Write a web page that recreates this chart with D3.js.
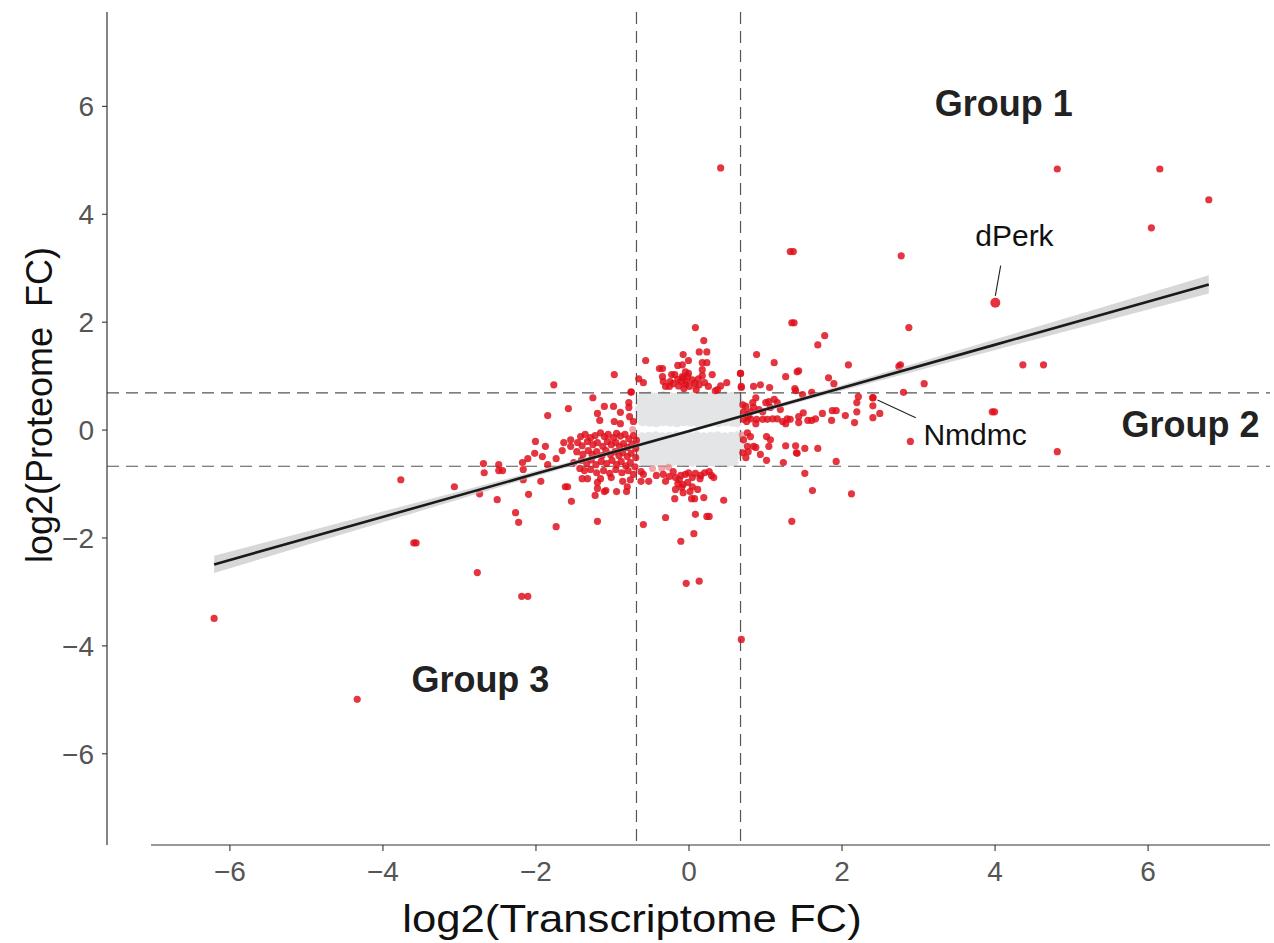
<!DOCTYPE html>
<html><head><meta charset="utf-8">
<script src="https://cdn.jsdelivr.net/npm/d3@7"></script>
<style>body{margin:0;background:#fff}svg{display:block}</style>
</head><body>
<svg id="c" width="1274" height="943"></svg>
<script>
// ---------- data ----------
const xTicks = [-6,-4,-2,0,2,4,6];
const yTicks = [-6,-4,-2,0,2,4,6];
const cutoff = 0.68; // log2 fold-change thresholds (dashed lines)

// regression fit (x, fitted y, standard-error half width)
const fitX  = [-6.2, -4, -2, 0, 2, 4, 6.8];
const fitY  = [-2.50, -1.62, -0.82, -0.03, 0.77, 1.57, 2.69];
const fitSE = [0.16, 0.10, 0.05, 0.03, 0.05, 0.10, 0.17];

// non-significant proteins (grey cloud)
const grayPts = [
[-0.60,0.61],[-0.51,0.62],[-0.42,0.60],[-0.33,0.62],[-0.24,0.61],[-0.15,0.60],[-0.06,0.62],[0.03,0.61],[0.12,0.60],[0.21,0.62],[0.30,0.61],[0.39,0.60],[0.48,0.62],[0.57,0.61],[0.64,0.59],
[-0.63,0.49],[-0.55,0.50],[-0.46,0.48],[-0.37,0.50],[-0.28,0.49],[-0.19,0.47],[-0.10,0.50],[-0.01,0.49],[0.08,0.48],[0.17,0.50],[0.26,0.49],[0.35,0.47],[0.44,0.50],[0.53,0.49],[0.62,0.48],[0.66,0.51],
[-0.64,0.37],[-0.58,0.38],[-0.49,0.36],[-0.40,0.38],[-0.31,0.37],[-0.22,0.35],[-0.13,0.38],[-0.04,0.37],[0.05,0.36],[0.14,0.38],[0.23,0.37],[0.32,0.35],[0.41,0.38],[0.50,0.37],[0.59,0.36],[0.66,0.38],
[-0.62,0.25],[-0.53,0.26],[-0.44,0.24],[-0.35,0.26],[-0.26,0.25],[-0.17,0.23],[-0.08,0.26],[0.01,0.25],[0.10,0.24],[0.19,0.26],[0.28,0.25],[0.37,0.23],[0.46,0.26],[0.55,0.25],[0.63,0.24],
[-0.60,0.15],[-0.51,0.14],[-0.42,0.13],[-0.33,0.15],[-0.24,0.14],[-0.15,0.13],[-0.06,0.15],[0.03,0.14],[0.12,0.13],[0.21,0.15],[0.30,0.14],[0.39,0.13],[0.48,0.15],[0.57,0.14],[0.64,0.13],
[-0.61,-0.14],[-0.52,-0.13],[-0.43,-0.12],[-0.34,-0.14],[-0.25,-0.13],[-0.16,-0.12],[-0.07,-0.14],[0.02,-0.13],[0.11,-0.12],[0.20,-0.14],[0.29,-0.13],[0.38,-0.12],[0.47,-0.14],[0.56,-0.13],[0.64,-0.12],
[-0.64,-0.24],[-0.56,-0.25],[-0.47,-0.23],[-0.38,-0.25],[-0.29,-0.24],[-0.20,-0.22],[-0.11,-0.25],[-0.02,-0.24],[0.07,-0.23],[0.16,-0.25],[0.25,-0.24],[0.34,-0.22],[0.43,-0.25],[0.52,-0.24],[0.61,-0.23],[0.67,-0.25],
[-0.65,-0.36],[-0.59,-0.37],[-0.50,-0.35],[-0.41,-0.37],[-0.32,-0.36],[-0.23,-0.34],[-0.14,-0.37],[-0.05,-0.36],[0.04,-0.35],[0.13,-0.37],[0.22,-0.36],[0.31,-0.34],[0.40,-0.37],[0.49,-0.36],[0.58,-0.35],[0.66,-0.37],
[-0.62,-0.48],[-0.53,-0.49],[-0.44,-0.47],[-0.35,-0.49],[-0.26,-0.48],[-0.17,-0.46],[-0.08,-0.49],[0.01,-0.48],[0.10,-0.47],[0.19,-0.49],[0.28,-0.48],[0.37,-0.46],[0.46,-0.49],[0.55,-0.48],[0.63,-0.47],
[-0.58,-0.60],[-0.49,-0.61],[-0.40,-0.59],[-0.31,-0.61],[-0.22,-0.60],[-0.13,-0.59],[-0.04,-0.61],[0.05,-0.60],[0.14,-0.59],[0.23,-0.61],[0.32,-0.60],[0.41,-0.59],[0.50,-0.61],[0.59,-0.60]
];

// significant proteins (red)
const redPts = [
// outliers / sparse
[-6.20,-3.50],[-4.33,-5.00],[0.42,4.85],[4.82,4.83],[6.16,4.83],[6.80,4.26],[6.05,3.74],[2.78,3.22],[1.33,3.30],[1.37,3.30],
[2.88,1.89],[1.35,1.98],[1.38,1.98],[1.78,1.74],[1.69,1.57],[0.89,1.39],[1.12,1.24],[2.09,1.20],[2.75,1.17],[2.77,1.20],
[4.37,1.20],[4.64,1.20],[3.08,0.85],[2.81,0.69],[3.97,0.33],[4.00,0.33],[2.90,-0.22],[4.82,-0.41],[2.13,-1.19],[1.62,-1.13],
[1.35,-1.70],[0.69,-3.89],[-0.03,-2.85],[0.14,-2.81],[-0.10,-2.07],[0.07,-1.93],[-0.59,-1.76],[-0.30,-1.63],[0.09,-1.57],[0.24,-1.61],
[0.27,-1.61],[0.46,-1.31],[-1.19,-1.70],[-1.73,-1.80],[-2.26,-1.54],[-2.22,-1.72],[-2.50,-1.30],[-2.09,-1.20],[-2.73,-1.19],[-3.06,-1.06],
[-3.76,-0.93],[-3.59,-2.10],[-3.56,-2.10],[-2.76,-2.65],[-2.18,-3.09],[-2.10,-3.09],[-1.61,-1.06],[-1.58,-1.06],[-1.53,-1.33],[1.52,-0.81],
// left wing
[-2.68,-0.63],[-2.48,-0.65],[-2.67,-0.80],[-2.48,-0.76],[-2.43,-0.76],[-2.16,-0.74],[-2.16,-0.93],[-1.93,-0.96],[-2.00,-0.22],[-1.63,-0.24],
[-1.54,-0.19],[-1.87,-0.31],[-1.54,-0.31],[-1.65,-0.39],[-2.01,-0.44],[-2.10,-0.54],[-1.91,-0.50],[-1.73,-0.54],[-2.17,-0.61],[-1.84,-0.65],
[-1.50,-0.61],[-1.42,-0.72],[-1.76,0.83],[-1.84,0.26],[-1.57,0.39],[-1.25,0.59],[-1.10,0.43],[-0.98,0.43],[-0.78,0.50],[-0.78,0.41],
[-1.19,0.30],[-1.16,0.17],[-0.89,0.32],[-0.77,0.24],[-0.97,0.15],[-0.89,0.11],[-0.72,0.15],[-0.97,1.02],[-0.75,0.69],[-0.56,1.28],
[-0.65,0.94],[-0.59,0.87],
// left dense cluster
[-1.41,-0.13],[-1.35,-0.09],[-1.28,-0.15],[-1.22,-0.11],[-1.15,-0.06],[-1.10,-0.13],[-1.05,-0.09],[-0.98,-0.15],[-0.94,-0.07],[-0.89,-0.12],
[-0.83,-0.09],[-0.78,-0.17],[-0.72,-0.11],[-0.68,-0.20],[-1.45,-0.24],[-1.39,-0.30],[-1.32,-0.22],[-1.25,-0.28],[-1.19,-0.24],[-1.12,-0.31],
[-1.06,-0.22],[-1.01,-0.28],[-0.95,-0.24],[-0.90,-0.31],[-0.85,-0.26],[-0.80,-0.33],[-0.74,-0.27],[-0.69,-0.35],[-1.46,-0.41],[-1.38,-0.46],
[-1.31,-0.39],[-1.26,-0.46],[-1.20,-0.41],[-1.13,-0.48],[-1.08,-0.39],[-1.02,-0.46],[-0.96,-0.41],[-0.91,-0.48],[-0.86,-0.43],[-0.80,-0.50],
[-0.75,-0.44],[-0.69,-0.52],[-1.40,-0.57],[-1.33,-0.63],[-1.27,-0.56],[-1.21,-0.65],[-1.14,-0.59],[-1.07,-0.63],[-1.00,-0.57],[-0.94,-0.65],
[-0.88,-0.59],[-0.82,-0.67],[-0.76,-0.61],[-0.70,-0.69],[-1.36,-0.76],[-1.28,-0.74],[-1.20,-0.80],[-1.11,-0.76],[-1.03,-0.81],[-0.95,-0.74],
[-0.87,-0.80],[-0.79,-0.76],[-0.72,-0.83],[-1.39,-0.91],[-1.32,-0.91],[-1.19,-0.98],[-1.15,-0.91],[-1.01,-0.89],[-0.86,-0.96],[-0.76,-0.93],
[-1.19,-1.09],[-1.08,-1.13],[-1.22,-1.22],[-0.94,-1.15],[-0.81,-1.15],[-0.80,-1.06],[-1.10,-1.15],
// upper centre cluster
[0.09,1.89],[0.20,1.65],[0.14,1.44],[0.24,1.44],[-0.07,1.39],[0.00,1.28],[0.18,1.24],[0.24,1.24],[-0.14,1.19],[-0.08,1.20],
[-0.38,1.13],[-0.34,1.13],[-0.04,1.07],[-0.22,1.02],[0.18,1.11],[0.18,1.00],[0.31,1.02],[-0.34,0.98],[0.00,1.04],[-0.08,0.98],
[-0.01,0.98],[-0.14,0.93],[-0.33,0.89],[-0.24,0.89],[-0.10,0.89],[-0.03,0.89],[0.13,0.94],[0.21,0.87],[0.14,0.83],[-0.25,0.80],
[-0.13,0.81],[0.01,0.80],[0.26,0.80],[0.50,0.87],[0.42,0.81],[0.38,0.74],[0.68,1.04],[0.69,0.78],[-0.75,0.70],[-0.07,0.96],
[-0.18,1.02],[0.05,0.92],[-0.04,0.84],[0.08,0.86],[-0.20,0.85],[0.35,0.72],[-0.30,0.80],[0.10,0.74],[-0.06,0.76],
// lower centre cluster
[-0.59,-0.83],[-0.42,-0.85],[-0.33,-0.83],[-0.17,-0.89],[-0.10,-0.85],[-0.04,-0.83],[0.05,-0.89],[0.09,-0.81],[0.21,-0.80],[0.27,-0.78],
[0.33,-0.89],[-0.52,-0.96],[-0.30,-0.96],[-0.07,-1.02],[-0.01,-0.98],[0.05,-1.06],[-0.17,-1.11],[-0.09,-1.07],[0.12,-1.11],[-0.07,-1.17],
[-0.18,-1.28],[0.04,-1.28],[0.08,-1.28],[0.20,-1.26],[-0.20,-0.78],[-0.12,-0.93],[0.15,-0.91],[-0.25,-0.87],[0.00,-0.80],[0.16,-0.85],
[-0.14,-1.00],[0.02,-1.15],[0.30,-0.85],[-0.62,-0.78],[-0.62,-0.96],
// right wing
[0.68,1.04],[1.42,1.07],[1.44,1.09],[1.27,0.98],[1.83,0.96],[1.90,0.85],[1.39,0.76],[0.69,0.80],[0.85,0.80],[0.94,0.83],
[1.06,0.78],[1.40,0.72],[1.61,0.69],[1.49,0.65],[2.22,0.61],[2.41,0.59],[2.20,0.50],[2.41,0.44],[2.50,0.30],[2.20,0.33],
[2.17,0.13],[2.41,0.22],[2.05,0.26],[1.87,0.17],[1.93,0.35],[1.88,0.35],[1.75,0.30],[1.66,0.20],[1.61,0.17],[1.56,0.17],
[1.44,0.24],[1.44,0.13],[1.50,0.31],[1.29,0.20],[1.27,0.11],[1.23,0.15],[1.16,0.20],[1.10,0.20],[1.03,0.19],[0.97,0.19],
[0.89,0.19],[0.81,0.20],[0.78,0.24],[1.16,0.50],[1.12,0.56],[1.05,0.52],[1.01,0.50],[0.88,0.59],[0.84,0.50],[0.75,0.43],
[0.81,0.33],[0.85,0.41],[0.72,0.33],[0.77,0.28],[0.92,0.37],[0.71,0.46],[0.97,0.33],[1.07,0.41],[1.20,0.37],[1.33,0.19],
[0.72,0.19],[0.76,0.15],[0.88,0.11],[0.77,-0.06],[0.81,-0.13],[0.72,-0.19],[0.77,-0.31],[0.78,-0.41],[0.88,-0.33],[1.02,-0.13],
[1.07,-0.19],[1.05,-0.31],[1.27,-0.30],[1.40,-0.30],[1.52,-0.35],[1.41,-0.43],[1.69,-0.35],[1.02,-0.57],[1.24,-0.61],[1.93,-0.59],
[0.71,-0.43],[0.85,-0.31],[1.42,-0.44],[0.94,-0.46],[0.75,-0.52]
];

// pale points (partly hidden at the cloud edge)
const palePts = [[-0.47,-0.72],[-0.35,-0.72],[-0.26,-0.70],[0.09,0.80],[-0.73,0.00],[0.70,-0.10]];

// highlighted genes
const genes = [
  {name:"dPerk", x:4.01, y:2.35, lx0:4.08, ly0:3.04, lx1:4.01, ly1:2.48, tx:4.26, ty:3.40, anchor:"middle"},
  {name:"Nmdmc", x:2.41, y:0.59, lx0:2.47, ly0:0.55, lx1:2.97, ly1:0.22, tx:3.07, ty:-0.28, anchor:"start"}
];
const groups = [
  {name:"Group 1", x:4.12, y:5.82},
  {name:"Group 2", x:6.56, y:-0.13},
  {name:"Group 3", x:-2.72, y:-4.87}
];

// ---------- chart ----------
const svg = d3.select("#c");
const x = d3.scaleLinear().domain([-7.6, 7.6]).range([107, 1270]);
const y = d3.scaleLinear().domain([-7.7, 7.74]).range([845, 12]);
const FONT = "Liberation Sans, Arial, Helvetica, sans-serif";

// grey cloud
svg.append("g").selectAll("circle").data(grayPts).join("circle")
  .attr("cx", d => x(d[0])).attr("cy", d => y(d[1])).attr("r", 4.8)
  .attr("fill", "#e4e5e6");

// dashed threshold lines
const dash = svg.append("g").attr("stroke", "#555").attr("stroke-width", 1.2).attr("stroke-dasharray", "12,7");
[-cutoff, cutoff].forEach(v => {
  dash.append("line").attr("x1", x(v)).attr("x2", x(v)).attr("y1", y(7.74)).attr("y2", y(-7.7));
  dash.append("line").attr("x1", x(-7.6)).attr("x2", x(7.6)).attr("y1", y(v)).attr("y2", y(v));
});

// pale points
svg.append("g").selectAll("circle").data(palePts).join("circle")
  .attr("cx", d => x(d[0])).attr("cy", d => y(d[1])).attr("r", 3.5)
  .attr("fill", "#ec8f93").attr("opacity", 0.8);

// red points
svg.append("g").selectAll("circle").data(redPts).join("circle")
  .attr("cx", d => x(d[0])).attr("cy", d => y(d[1])).attr("r", 3.6)
  .attr("fill", "#df0f1b").attr("fill-opacity", 0.84);

// highlighted gene points
svg.append("g").selectAll("circle").data(genes).join("circle")
  .attr("cx", d => x(d.x)).attr("cy", d => y(d.y)).attr("r", d => d.name === "dPerk" ? 5 : 3.7)
  .attr("fill", "#df0f1b").attr("fill-opacity", 0.85);

// confidence band + regression line
const fit = fitX.map((v, i) => ({x: v, y: fitY[i], se: fitSE[i]}));
svg.append("path").datum(fit)
  .attr("d", d3.area().x(d => x(d.x)).y0(d => y(d.y - d.se)).y1(d => y(d.y + d.se)).curve(d3.curveMonotoneX))
  .attr("fill", "#bdbdbd").attr("opacity", 0.6);
svg.append("path").datum(fit)
  .attr("d", d3.line().x(d => x(d.x)).y(d => y(d.y)))
  .attr("fill", "none").attr("stroke", "#1a1a1a").attr("stroke-width", 2.6);

// gene labels
genes.forEach(g => {
  svg.append("line").attr("x1", x(g.lx0)).attr("y1", y(g.ly0)).attr("x2", x(g.lx1)).attr("y2", y(g.ly1))
    .attr("stroke", "#222").attr("stroke-width", 1.1);
  svg.append("text").attr("x", x(g.tx)).attr("y", y(g.ty)).attr("text-anchor", g.anchor)
    .attr("font-family", FONT).attr("font-size", 30).attr("fill", "#111").text(g.name);
});

// group labels
svg.append("g").selectAll("text").data(groups).join("text")
  .attr("x", d => x(d.x)).attr("y", d => y(d.y)).attr("text-anchor", "middle")
  .attr("font-family", FONT).attr("font-size", 36).attr("font-weight", "bold").attr("fill", "#222")
  .text(d => d.name);

// axes
const axX = svg.append("g").attr("transform", `translate(0,845)`)
  .call(d3.axisBottom(x).tickValues(xTicks).tickSize(6).tickPadding(6));
const axY = svg.append("g").attr("transform", `translate(107,0)`)
  .call(d3.axisLeft(y).tickValues(yTicks).tickSize(5).tickPadding(8));
[axX, axY].forEach(a => {
  a.select(".domain").remove();
  a.selectAll(".tick line").attr("stroke", "#333").attr("stroke-width", 1.1);
  a.selectAll(".tick text").attr("font-family", FONT).attr("font-size", 28).attr("fill", "#555");
});
axX.selectAll(".tick text").attr("dy", "0.85em");
axY.selectAll(".tick text").attr("dy", "0.35em");
svg.append("line").attr("x1", 151).attr("x2", 1270).attr("y1", 845).attr("y2", 845).attr("stroke", "#333").attr("stroke-width", 1.2);
svg.append("line").attr("x1", 107).attr("x2", 107).attr("y1", 12).attr("y2", 845).attr("stroke", "#333").attr("stroke-width", 1.2);

// axis titles
svg.append("text").attr("transform", "translate(632,932) scale(1.12,1)").attr("text-anchor", "middle")
  .attr("font-family", FONT).attr("font-size", 39).attr("fill", "#111").text("log2(Transcriptome FC)");
svg.append("text").attr("transform", "translate(52,405) rotate(-90)").attr("text-anchor", "middle")
  .attr("font-family", FONT).attr("font-size", 36).attr("fill", "#111")
  .style("white-space", "pre").text("log2(Proteome  FC)");
</script>
</body></html>
